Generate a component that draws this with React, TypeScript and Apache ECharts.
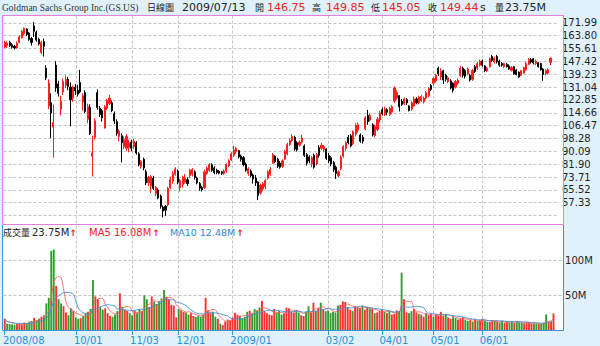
import React, { useEffect, useRef } from "react";
import * as echarts from "echarts";

// ---------- data ----------
const TITLE = "Goldman Sachs Group Inc.(GS.US)";
const PERIOD = "日線圖";

// trading days by month
const MONTH_DAYS: [string, number[]][] = [
  ["2008/08", [20, 21, 22, 25, 26, 27, 28, 29]],
  ["2008/09", [2, 3, 4, 5, 8, 9, 10, 11, 12, 15, 16, 17, 18, 19, 22, 23, 24, 25, 26, 29, 30]],
  ["2008/10", [1, 2, 3, 6, 7, 8, 9, 10, 13, 14, 15, 16, 17, 20, 21, 22, 23, 24, 27, 28, 29, 30, 31]],
  ["2008/11", [3, 4, 5, 6, 7, 10, 11, 12, 13, 14, 17, 18, 19, 20, 21, 24, 25, 26, 28]],
  ["2008/12", [1, 2, 3, 4, 5, 8, 9, 10, 11, 12, 15, 16, 17, 18, 19, 22, 23, 24, 26, 29, 30, 31]],
  ["2009/01", [2, 5, 6, 7, 8, 9, 12, 13, 14, 15, 16, 20, 21, 22, 23, 26, 27, 28, 29, 30]],
  ["2009/02", [2, 3, 4, 5, 6, 9, 10, 11, 12, 13, 17, 18, 19, 20, 23, 24, 25, 26, 27]],
  ["2009/03", [2, 3, 4, 5, 6, 9, 10, 11, 12, 13, 16, 17, 18, 19, 20, 23, 24, 25, 26, 27, 30, 31]],
  ["2009/04", [1, 2, 3, 6, 7, 8, 9, 13, 14, 15, 16, 17, 20, 21, 22, 23, 24, 27, 28, 29, 30]],
  ["2009/05", [1, 4, 5, 6, 7, 8, 11, 12, 13, 14, 15, 18, 19, 20, 21, 22, 26, 27, 28, 29]],
  ["2009/06", [1, 2, 3, 4, 5, 8, 9, 10, 11, 12, 15, 16, 17, 18, 19, 22, 23, 24, 25, 26, 29, 30]],
  ["2009/07", [1, 2, 6, 7, 8, 9, 10, 13]],
];

// [open, close, low, high]
const OHLC: number[][] = [
  [156.5, 159.5, 155.8, 160.5], [157.5, 159.0, 156.0, 160.2], [159.5, 157.5, 156.5, 160.5], [158.0, 156.5, 155.5, 159.0],
  [157.0, 156.0, 155.0, 158.0], [156.0, 159.0, 155.5, 160.0], [159.5, 163.0, 159.0, 164.0], [162.5, 166.5, 162.0, 167.5],
  [165.0, 168.5, 164.0, 169.0], [168.0, 164.5, 163.5, 168.5], [165.5, 161.5, 160.5, 166.0], [162.0, 159.5, 157.5, 163.0],
  [170.0, 166.5, 163.0, 172.5], [166.0, 161.0, 160.0, 167.0], [161.5, 158.5, 157.5, 162.5], [153.0, 159.5, 152.0, 160.5],
  [160.0, 157.0, 150.5, 162.0], [143.0, 137.0, 135.5, 145.0], [119.0, 133.5, 117.0, 136.0], [121.0, 114.5, 98.5, 127.0],
  [105.5, 108.5, 86.0, 120.0], [145.0, 130.5, 128.0, 147.5], [133.0, 127.0, 125.0, 135.0], [117.0, 122.0, 113.0, 125.5],
  [128.0, 134.5, 126.0, 136.5], [132.0, 136.0, 130.5, 138.5], [136.0, 131.5, 129.0, 137.5], [131.0, 123.0, 106.0, 134.0],
  [124.0, 131.0, 121.5, 132.0], [131.0, 128.5, 126.0, 133.0], [129.0, 126.5, 125.0, 132.5], [134.0, 128.0, 127.0, 142.0],
  [121.5, 125.5, 116.0, 127.0], [127.5, 115.5, 114.5, 129.0], [110.5, 118.5, 108.0, 120.5], [118.0, 101.5, 100.5, 120.0],
  [87.0, 89.0, 74.0, 100.0], [99.0, 109.5, 97.5, 111.0], [127.5, 118.0, 116.5, 129.5], [117.5, 113.5, 112.0, 119.0],
  [116.0, 111.5, 109.0, 117.0], [105.0, 118.5, 104.5, 119.5], [117.5, 122.5, 116.5, 123.5], [120.5, 124.0, 119.5, 126.0],
  [121.0, 116.0, 115.0, 122.5], [114.0, 109.5, 107.5, 115.5], [109.0, 101.5, 100.0, 110.5], [99.5, 103.0, 96.5, 104.0],
  [100.0, 95.5, 83.0, 101.5], [93.0, 97.5, 91.5, 99.5], [92.0, 99.5, 90.5, 101.0], [92.5, 95.5, 89.5, 97.5],
  [96.0, 92.0, 90.0, 97.5], [93.0, 96.5, 91.5, 98.0], [95.5, 89.0, 88.0, 96.5], [88.5, 81.5, 80.5, 89.5],
  [80.5, 83.5, 79.0, 84.5], [85.0, 79.5, 78.0, 86.0], [77.0, 70.0, 68.5, 78.5], [70.0, 73.5, 68.0, 74.5],
  [68.0, 74.0, 63.5, 75.0], [73.0, 66.5, 65.5, 74.5], [63.0, 67.0, 61.5, 68.0], [65.5, 60.5, 59.5, 66.5],
  [61.5, 55.0, 53.5, 62.5], [54.5, 52.0, 48.0, 55.5], [55.0, 52.5, 49.0, 56.0], [56.0, 66.5, 55.0, 67.5],
  [67.0, 72.0, 66.0, 74.0], [71.0, 76.0, 69.5, 77.5], [75.5, 79.0, 74.5, 80.0], [77.5, 70.5, 69.0, 78.5],
  [67.0, 71.5, 64.5, 72.5], [69.0, 73.5, 67.0, 74.5], [70.5, 73.0, 69.5, 75.5], [72.0, 69.5, 68.0, 73.5],
  [74.5, 78.0, 73.0, 79.0], [75.5, 78.5, 74.0, 79.5], [77.0, 73.5, 72.0, 78.0], [73.0, 70.0, 69.0, 74.0],
  [69.5, 66.5, 65.0, 70.5], [67.0, 65.5, 64.5, 68.0], [67.0, 77.0, 66.0, 78.5], [76.0, 79.5, 75.0, 80.5],
  [78.0, 81.5, 77.0, 82.5], [81.5, 78.0, 77.0, 82.5], [79.5, 76.5, 75.5, 80.5], [78.0, 76.5, 75.5, 79.0],
  [77.5, 76.0, 75.5, 78.0], [77.0, 76.0, 75.0, 77.5], [76.0, 77.5, 75.0, 78.5], [77.5, 81.5, 76.5, 82.5],
  [81.0, 84.0, 80.0, 85.0], [84.5, 88.5, 84.0, 89.5], [87.5, 91.0, 86.5, 93.5], [90.0, 92.0, 88.5, 93.0],
  [90.5, 86.5, 85.5, 91.0], [87.0, 85.0, 83.5, 88.0], [86.0, 81.5, 80.5, 87.0], [82.0, 78.0, 77.0, 83.0],
  [76.0, 79.0, 74.5, 80.0], [77.5, 74.5, 73.5, 78.5], [75.0, 72.5, 69.5, 76.0], [73.0, 70.0, 68.0, 75.0],
  [70.5, 62.0, 59.0, 71.0], [63.5, 68.5, 62.5, 69.5], [66.0, 69.5, 64.5, 70.5], [67.5, 71.5, 66.0, 72.5],
  [73.0, 77.0, 72.0, 78.0], [75.5, 78.5, 74.5, 80.0], [82.5, 88.0, 82.0, 89.0], [87.0, 83.5, 82.5, 87.5],
  [85.0, 80.5, 79.5, 86.0], [82.5, 80.0, 79.0, 84.0], [80.5, 84.0, 79.5, 85.0], [85.0, 90.0, 84.5, 91.0],
  [88.5, 94.5, 87.5, 95.5], [94.5, 97.0, 93.5, 98.5], [97.0, 99.5, 96.0, 101.0], [99.0, 91.5, 90.5, 100.0],
  [95.5, 91.0, 90.0, 96.5], [94.0, 96.0, 93.0, 97.0], [96.0, 98.5, 95.0, 100.5], [93.5, 87.5, 86.5, 94.5],
  [88.0, 82.5, 81.0, 89.0], [86.5, 84.0, 82.5, 87.5], [82.0, 86.0, 80.0, 87.0], [87.5, 80.0, 79.0, 88.5],
  [82.0, 88.0, 81.0, 89.0], [92.5, 87.5, 86.0, 94.0], [92.0, 94.0, 91.0, 95.5], [91.0, 93.0, 89.5, 94.0],
  [91.5, 85.5, 84.5, 92.0], [87.5, 84.0, 82.5, 89.0], [86.0, 82.0, 80.5, 87.0], [83.0, 78.5, 77.0, 84.0],
  [80.0, 76.0, 72.5, 81.0], [74.5, 77.0, 73.5, 78.0], [79.0, 86.5, 78.0, 87.5], [87.0, 93.0, 86.0, 94.0],
  [92.0, 95.5, 90.5, 96.5], [99.0, 95.5, 94.5, 100.5], [100.0, 93.5, 92.5, 101.0], [95.0, 102.5, 94.0, 103.5],
  [101.0, 106.5, 99.5, 108.0], [103.5, 107.0, 102.0, 108.5], [100.5, 96.5, 95.5, 101.5], [99.0, 96.5, 95.0, 100.5],
  [104.5, 111.5, 103.5, 112.5], [113.0, 109.0, 107.0, 116.5], [110.0, 113.0, 109.0, 114.0], [107.0, 100.5, 99.5, 108.0],
  [100.0, 106.0, 99.0, 107.0], [104.0, 110.5, 103.0, 112.0], [110.0, 114.5, 108.5, 116.0], [116.5, 114.0, 113.0, 118.0],
  [113.5, 117.0, 112.5, 118.5], [116.5, 115.0, 113.0, 117.5], [113.5, 117.5, 112.5, 118.5], [115.0, 118.5, 114.0, 119.5],
  [122.0, 130.5, 121.0, 131.5], [124.0, 127.5, 123.0, 129.0], [125.5, 118.5, 115.5, 126.0], [122.0, 120.0, 119.0, 123.5],
  [120.5, 123.5, 119.5, 124.5], [123.0, 121.0, 119.5, 124.0], [119.0, 116.0, 115.5, 119.5], [117.0, 121.0, 116.0, 122.0],
  [119.0, 123.5, 118.5, 125.0], [123.5, 121.0, 120.0, 124.5], [121.0, 124.5, 120.0, 125.5], [122.5, 125.0, 121.5, 126.0],
  [121.5, 124.0, 120.5, 125.0], [124.0, 127.5, 123.0, 128.5], [125.5, 130.0, 124.5, 131.0], [132.0, 129.5, 128.5, 133.0],
  [133.5, 136.5, 132.0, 137.5], [135.0, 138.5, 134.0, 139.5], [143.0, 139.5, 138.0, 144.0], [137.5, 141.0, 135.5, 143.0],
  [141.5, 135.5, 133.0, 142.0], [138.5, 136.0, 134.5, 139.5], [134.5, 137.0, 133.5, 138.0], [135.0, 130.5, 129.5, 136.0],
  [133.5, 129.0, 127.5, 134.0], [131.0, 134.5, 130.0, 135.5], [133.5, 135.5, 132.5, 136.5], [138.5, 143.0, 137.5, 144.5],
  [143.0, 138.5, 137.0, 144.0], [141.5, 138.0, 136.5, 142.5], [139.5, 142.5, 138.5, 143.5], [138.5, 135.5, 134.5, 139.5],
  [136.0, 141.5, 135.0, 142.5], [144.0, 141.0, 140.0, 145.0], [143.0, 146.0, 142.0, 147.0], [145.0, 147.5, 144.0, 148.5],
  [147.5, 145.0, 144.0, 148.5], [144.5, 141.5, 140.5, 145.0], [141.5, 143.0, 140.5, 144.0], [144.0, 149.0, 143.5, 150.0],
  [150.5, 148.0, 147.0, 151.5], [147.0, 149.5, 146.0, 150.5], [150.5, 147.0, 146.0, 151.5], [147.5, 145.0, 144.0, 148.5],
  [146.0, 145.0, 144.0, 147.0], [144.0, 146.0, 143.0, 146.5], [145.5, 144.0, 143.5, 146.5], [144.5, 142.5, 142.0, 145.5],
  [141.5, 143.5, 141.0, 144.5], [144.0, 139.5, 139.0, 144.5], [142.0, 139.0, 138.5, 142.5], [140.5, 137.5, 137.0, 141.0],
  [138.5, 141.5, 138.0, 142.0], [140.0, 143.5, 139.5, 144.0], [142.0, 146.0, 141.5, 147.0], [145.5, 148.5, 145.0, 149.5],
  [148.5, 147.0, 146.0, 149.5], [149.0, 146.5, 145.5, 149.5], [146.0, 147.5, 145.0, 148.5], [146.5, 144.0, 143.5, 147.0],
  [146.0, 142.0, 141.5, 146.5], [142.5, 139.0, 135.0, 143.0], [139.5, 141.5, 138.5, 142.5], [140.0, 142.0, 139.0, 143.0],
  [146.75, 149.44, 145.05, 149.85],
];

// volume in millions of shares
const VOLUME_M: number[] = [
  16.0, 9.0, 8.5, 8.0, 7.5, 8.5, 9.5, 8.0, 10.5, 9.5, 12.0, 13.0, 17.5, 14.0, 16.5, 19.0, 21.0, 38.0, 46.0, 113.0,
  115.0, 63.0, 44.0, 38.0, 34.0, 25.0, 21.0, 31.0, 27.0, 18.0, 16.0, 17.0, 20.0, 24.0, 26.0, 30.0, 71.5, 48.0, 44.0, 33.0,
  29.0, 31.0, 24.0, 20.0, 19.0, 22.0, 27.0, 52.5, 33.0, 29.0, 27.0, 24.0, 21.0, 28.0, 24.0, 30.0, 27.0, 49.5, 44.0, 33.0,
  48.0, 41.0, 37.0, 41.0, 45.0, 57.0, 47.5, 44.0, 36.0, 35.0, 18.0, 30.0, 28.0, 26.0, 25.0, 22.0, 24.0, 20.0, 18.5, 20.0,
  19.0, 22.0, 46.0, 28.0, 25.0, 26.0, 19.0, 16.0, 9.0, 7.0, 12.0, 15.0, 14.0, 18.0, 24.5, 22.0, 20.0, 17.0, 19.0, 26.0,
  27.5, 24.0, 30.0, 28.0, 32.0, 41.5, 27.0, 24.0, 22.0, 21.0, 30.0, 25.0, 27.0, 22.0, 24.0, 32.0, 31.0, 26.0, 25.0, 28.0,
  25.0, 21.0, 20.0, 26.0, 34.0, 25.0, 39.0, 27.0, 31.0, 39.0, 30.0, 27.0, 28.0, 24.0, 26.0, 25.0, 35.0, 36.0, 41.0, 40.0,
  33.0, 29.0, 27.0, 34.0, 33.0, 31.0, 35.0, 29.0, 33.0, 31.0, 30.0, 24.0, 25.0, 27.0, 29.0, 26.0, 24.0, 27.0, 22.0, 23.0,
  28.0, 27.0, 82.0, 44.0, 25.0, 24.0, 27.0, 30.0, 25.0, 23.0, 22.0, 19.0, 24.0, 21.0, 23.0, 19.0, 22.0, 21.0, 26.0, 20.0,
  23.0, 18.0, 16.0, 19.0, 17.0, 15.0, 16.0, 18.0, 15.0, 13.0, 14.0, 12.0, 15.0, 13.0, 14.0, 16.0, 13.0, 12.0, 11.5, 14.0,
  13.0, 12.0, 11.0, 13.0, 10.5, 12.0, 11.0, 12.5, 10.0, 13.0, 11.0, 10.5, 9.5, 11.0, 10.0, 9.5, 8.8, 9.2, 8.4, 8.5,
  10.5, 22.4, 11.5, 12.25, 23.75,
];

// date axis labels
const TICK_LABELS: [string, string][] = [
  ["2008/08/20", "2008/08"],
  ["2008/10/01", "10/01"],
  ["2008/11/03", "11/03"],
  ["2008/12/01", "12/01"],
  ["2009/01/02", "2009/01"],
  ["2009/03/02", "03/02"],
  ["2009/04/01", "04/01"],
  ["2009/05/01", "05/01"],
  ["2009/06/01", "06/01"],
];

const PRICE_MIN = 49.14;
const PRICE_MAX = 171.99;
const PRICE_STEP = 8.19;
const VOL_MAX = 150;
const VOL_STEP = 50;

// ---------- derived ----------
const DATES: string[] = [];
MONTH_DAYS.forEach(([ym, days]) => days.forEach((d) => DATES.push(`${ym}/${String(d).padStart(2, "0")}`)));
const PAD = ["pad1", "pad2", "pad3"];
const CATS = DATES.concat(PAD);
const NCAT = CATS.length;

const labelByIndex = new Map<number, string>();
TICK_LABELS.forEach(([d, t]) => labelByIndex.set(DATES.indexOf(d), t));
const lineIdx = new Set<number>([...labelByIndex.keys()].filter((i) => i !== 0));

function ma(n: number): number[] {
  return VOLUME_M.map((_, i) => {
    const s = Math.max(0, i - n + 1);
    const w = VOLUME_M.slice(s, i + 1);
    return w.reduce((a, b) => a + b, 0) / w.length;
  });
}
const MA5 = ma(5);
const MA10 = ma(10);

const UP = "#FF1E1E";
const DOWN = "#000000";
const VOL_UP = "#FF3030";
const VOL_DOWN = "#2F9E2F";
const BLUE = "#3A95D6";
const GRID_LINE = "#C4C4C4";

const volData = VOLUME_M.map((v, i) => {
  const prev = i === 0 ? OHLC[0][0] : OHLC[i - 1][1];
  const up = OHLC[i][1] >= prev;
  return { value: v, itemStyle: { color: up ? VOL_UP : VOL_DOWN } };
});

const NUM_FONT = "'DejaVu Sans', Verdana, sans-serif";
const CJK_FONT = "'Noto Sans CJK TC', 'Noto Sans CJK SC', sans-serif";
const SERIF_FONT = "'Liberation Serif', 'DejaVu Serif', serif";

// layout
const BAND = 2.45;
const GRID_LEFT = 3.5;
const GRID_W = NCAT * BAND;
const GRID_RIGHT = 600 - GRID_LEFT - GRID_W;
const CENTER_LEFT = GRID_LEFT + BAND / 2;
const CENTER_W = (NCAT - 1) * BAND;
const CENTER_RIGHT = 600 - CENTER_LEFT - CENTER_W;

function txt(x: number, y: number, text: string, fill: string, size: number, family: string, weight = "normal") {
  return {
    type: "text",
    x,
    y,
    z: 20,
    silent: true,
    style: { text, fill, fontSize: size, fontFamily: family, fontWeight: weight, verticalAlign: "middle", align: "left" },
  };
}

const last = OHLC[OHLC.length - 1];
const lastVol = VOLUME_M[VOLUME_M.length - 1];
const f2 = (v: number) => v.toFixed(2);

function buildOption() {
  const graphic: any[] = [
    { type: "rect", z: -5, silent: true, shape: { x: 2.5, y: 15.5, width: 561, height: 209 }, style: { fill: "#FFFFFF" } },
    { type: "rect", z: -5, silent: true, shape: { x: 2.5, y: 225, width: 561, height: 105.5 }, style: { fill: "#FFFFFF" } },
    {
      type: "rect", z: 15, silent: true,
      shape: { x: 2.5, y: 15.5, width: 561, height: 209 },
      style: { fill: "none", stroke: "#E27DE2", lineWidth: 1 },
    },
    {
      type: "polyline", z: 15, silent: true,
      shape: { points: [[2.5, 225], [2.5, 330.5], [563.5, 330.5], [563.5, 225]] },
      style: { fill: "none", stroke: BLUE, lineWidth: 1 },
    },
    // header
    txt(2, 7.5, TITLE, "#333333", 9.5, SERIF_FONT),
    txt(147, 7.5, PERIOD, "#222222", 9, CJK_FONT),
    txt(182, 7.5, "2009/07/13", "#222222", 11, NUM_FONT),
    txt(255, 7.5, "開", "#222222", 9, CJK_FONT),
    txt(267, 7.5, f2(last[0]), "#F01E1E", 11, NUM_FONT),
    txt(312, 7.5, "高", "#222222", 9, CJK_FONT),
    txt(326, 7.5, f2(last[3]), "#F01E1E", 11, NUM_FONT),
    txt(371, 7.5, "低", "#222222", 9, CJK_FONT),
    txt(382, 7.5, f2(last[2]), "#F01E1E", 11, NUM_FONT),
    txt(428, 7.5, "收", "#222222", 9, CJK_FONT),
    txt(440, 7.5, f2(last[1]), "#F01E1E", 11, NUM_FONT),
    txt(480, 7.5, "s", "#222222", 11, NUM_FONT),
    txt(495, 7.5, "量", "#222222", 9, CJK_FONT),
    txt(505, 7.5, f2(lastVol) + "M", "#222222", 11, NUM_FONT),
    // volume legend
    txt(3, 232.5, "成交量", "#222222", 9, CJK_FONT),
    txt(32, 232.5, f2(lastVol) + "M", "#222222", 10, NUM_FONT),
    txt(69.5, 232.5, "↑", "#F01E1E", 9, NUM_FONT, "bold"),
    txt(89, 232.5, "MA5 " + f2(MA5[MA5.length - 1]) + "M", "#F01E1E", 10, NUM_FONT),
    txt(152.5, 232.5, "↑", "#F01E1E", 9, NUM_FONT, "bold"),
    txt(170, 232.5, "MA10 " + f2(MA10[MA10.length - 1]) + "M", "#2F86CF", 9.5, NUM_FONT),
    txt(236.5, 232.5, "↑", "#F01E1E", 9, NUM_FONT, "bold"),
  ];

  return {
    animation: false,
    backgroundColor: "#E1F1FB",
    graphic,
    grid: [
      { left: GRID_LEFT, right: GRID_RIGHT, top: 22.8, height: 192.75 },
      { left: GRID_LEFT, right: GRID_RIGHT, top: 225, height: 105 },
      { left: CENTER_LEFT, right: CENTER_RIGHT, top: 15.5, height: 315 },
      { left: CENTER_LEFT - 3, right: CENTER_RIGHT + 3, top: 329, height: 1 },
    ],
    xAxis: [
      { gridIndex: 0, type: "category", data: CATS, boundaryGap: true, show: false },
      {
        gridIndex: 1, type: "category", data: CATS, boundaryGap: true,
        axisLine: { show: false },
        axisTick: {
          show: true, alignWithLabel: true, length: 5,
          interval: (i: number) => labelByIndex.has(i),
          lineStyle: { color: BLUE, width: 1 },
        },
        axisLabel: { show: false },
        splitLine: { show: false },
      },
      {
        gridIndex: 2, type: "category", data: CATS, boundaryGap: false,
        axisLine: { show: false }, axisTick: { show: false }, axisLabel: { show: false },
        splitLine: {
          show: true,
          interval: (i: number) => lineIdx.has(i),
          lineStyle: { color: GRID_LINE, type: [3, 2], width: 1 },
        },
      },
      {
        gridIndex: 3, type: "category", data: CATS, boundaryGap: false,
        axisLine: { show: false }, axisTick: { show: false },
        splitLine: { show: false },
        axisLabel: {
          show: true,
          interval: (i: number) => labelByIndex.has(i),
          formatter: (_v: string, i: number) => labelByIndex.get(i) ?? "",
          align: "left",
          margin: 5.5,
          color: "#2A8FD4",
          fontSize: 10,
          fontFamily: NUM_FONT,
        },
      },
    ],
    yAxis: [
      {
        gridIndex: 0, type: "value", position: "right",
        min: PRICE_MIN, max: PRICE_MAX, interval: PRICE_STEP,
        axisLine: { show: false }, axisTick: { show: false },
        axisLabel: {
          showMinLabel: false,
          formatter: (v: number) => v.toFixed(2),
          color: "#1E1E1E", fontSize: 10, fontFamily: NUM_FONT, margin: 3,
        },
        splitLine: { show: true, lineStyle: { color: GRID_LINE, type: [3, 2], width: 1 } },
      },
      {
        gridIndex: 1, type: "value", position: "right",
        min: 0, max: VOL_MAX, interval: VOL_STEP,
        axisLine: { show: false }, axisTick: { show: false },
        axisLabel: {
          showMinLabel: false, showMaxLabel: false,
          formatter: (v: number) => v + "M",
          color: "#1E1E1E", fontSize: 10, fontFamily: NUM_FONT, margin: 3,
        },
        splitLine: {
          show: true, showMinLine: false, showMaxLine: false,
          lineStyle: { color: GRID_LINE, type: [3, 2], width: 1 },
        },
      },
      { gridIndex: 2, type: "value", show: false },
      { gridIndex: 3, type: "value", show: false },
    ],
    series: [
      {
        type: "candlestick",
        xAxisIndex: 0, yAxisIndex: 0,
        data: OHLC,
        clip: false,
        barWidth: 1.6,
        itemStyle: { color: UP, color0: DOWN, borderColor: UP, borderColor0: DOWN, borderWidth: 1 },
      },
      {
        type: "bar",
        xAxisIndex: 1, yAxisIndex: 1,
        data: volData,
        barWidth: "78%",
      },
      {
        type: "line",
        xAxisIndex: 1, yAxisIndex: 1,
        data: MA5,
        symbol: "none", smooth: 0.4,
        lineStyle: { color: "#FF5A5A", width: 1, opacity: 0.85 },
      },
      {
        type: "line",
        xAxisIndex: 1, yAxisIndex: 1,
        data: MA10,
        symbol: "none", smooth: 0.4,
        lineStyle: { color: "#3D8FD8", width: 1, opacity: 0.9 },
      },
    ],
  };
}

export default function App() {
  const ref = useRef<HTMLDivElement>(null);
  useEffect(() => {
    const el = ref.current;
    if (!el) return;
    const chart = echarts.init(el, undefined, { renderer: "svg", width: 600, height: 346 });
    chart.setOption(buildOption() as any);
    return () => chart.dispose();
  }, []);
  return <div ref={ref} style={{ position: "fixed", left: 0, top: 0, width: 600, height: 346 }} />;
}
